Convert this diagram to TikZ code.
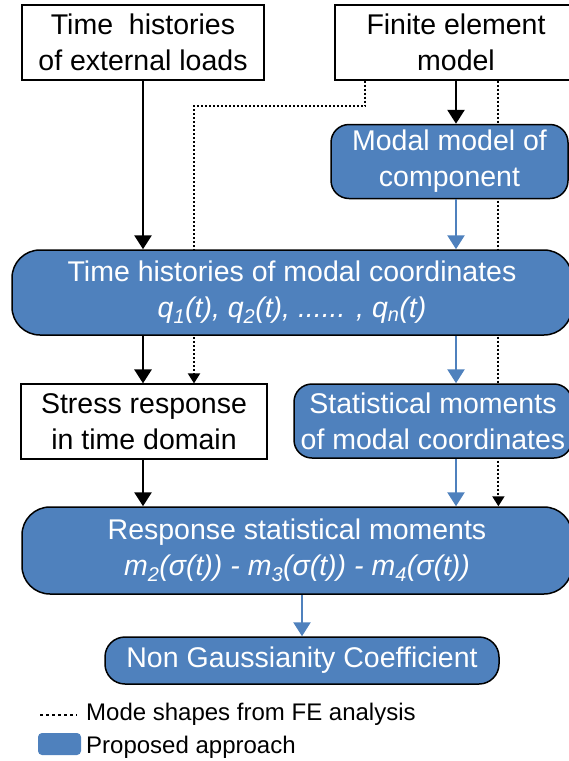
\documentclass[tikz,border=0pt]{standalone}
\usepackage{fontspec}
\setmainfont{Liberation Sans}
\usetikzlibrary{arrows.meta,backgrounds}
\definecolor{approachblue}{RGB}{79,129,189}
\tikzset{
  boxtext/.style={font=\fontsize{28.5}{36}\selectfont, align=center, inner sep=0pt},
  whitecell/.style={boxtext, draw=black, line width=1.2pt, fill=white},
  bluecell/.style={boxtext, draw=black, line width=1.5pt, fill=approachblue, text=white, rounded corners=#1},
  bluecell/.default=18pt,
  blackarrow/.style={draw=black, line width=2.8pt, -{Triangle[width=17pt,length=14pt]}},
  bluearrow/.style={draw=approachblue, line width=2.6pt, -{Triangle[width=17pt,length=14pt]}},
  modeline/.style={draw=black, line width=2pt, dash pattern=on 2pt off 2pt},
  modearrow/.style={modeline, -{Triangle[width=12pt,length=10pt]}},
  legendtext/.style={font=\fontsize{24}{28}\selectfont, inner sep=0pt, anchor=base west}
}

\begin{document}
\begin{tikzpicture}[x=1pt,y=-1pt]
  \useasboundingbox (0,0) rectangle (569,761);

  \node[whitecell, minimum width=242pt, minimum height=75pt] (loads) at (143,42.5) {Time\ \ histories\\of external loads};
  \node[whitecell, minimum width=242pt, minimum height=75pt] (fem) at (456,42.5) {Finite element\\model};
  \node[bluecell, minimum width=237pt, minimum height=74pt] (modal) at (449.5,161.5) {Modal model of\\component};
  \node[bluecell=28pt, minimum width=560pt, minimum height=85pt] (modalcoord) at (292,292.5)
    {Time histories of modal coordinates\\\itshape q\textsubscript{1}(t), q\textsubscript{2}(t), ...... , q\textsubscript{n}(t)};
  \node[whitecell, minimum width=246pt, minimum height=75pt] (stress) at (144,421.5) {Stress response\\in time domain};
  \node[bluecell, minimum width=278pt, minimum height=74pt] (moments) at (433,421) {Statistical moments\\of modal coordinates};
  \node[bluecell=28pt, minimum width=550pt, minimum height=87pt] (response) at (297,550.5)
    {Response statistical moments\\\itshape m\textsubscript{2}(σ(t)) - m\textsubscript{3}(σ(t)) - m\textsubscript{4}(σ(t))};
  \node[bluecell=20pt, minimum width=394pt, minimum height=47pt] (ngc) at (302,660.5) {Non Gaussianity Coefficient};

  \coordinate (bend) at (194,106);
  \coordinate (tapB) at ([xshift=164pt]fem.south west);
  \begin{scope}[on background layer]
    \draw[modearrow] ([xshift=31pt]fem.south west) |- (bend) -- (stress.north -| bend);
    \draw[modearrow] (tapB) -- (response.north -| tapB);
  \end{scope}

  \draw[blackarrow] (loads.south) -- (modalcoord.north -| loads.south);
  \draw[blackarrow] (fem.south) -- (modal.north -| fem.south);
  \draw[bluearrow] (modal.south -| fem.south) -- (modalcoord.north -| fem.south);
  \draw[blackarrow] (modalcoord.south -| loads.south) -- (stress.north -| loads.south);
  \draw[bluearrow] (modalcoord.south -| fem.south) -- (moments.north -| fem.south);
  \draw[blackarrow] (stress.south -| loads.south) -- (response.north -| loads.south);
  \draw[bluearrow] (moments.south -| fem.south) -- (response.north -| fem.south);
  \draw[bluearrow] (response.south -| ngc.north) -- (ngc.north);

  \draw[modeline, line width=2.6pt, dash pattern=on 2.6pt off 3.4pt] (40,715) -- (77,715);
  \node[legendtext] (modelegend) at (86,720) {Mode shapes from FE analysis};
  \node[fill=approachblue, rounded corners=4pt, minimum width=43pt, minimum height=22pt, inner sep=0pt] (swatch) at (59.5,744) {};
  \node[legendtext] (bluelegend) at (86,753) {Proposed approach};
\end{tikzpicture}
\end{document}
